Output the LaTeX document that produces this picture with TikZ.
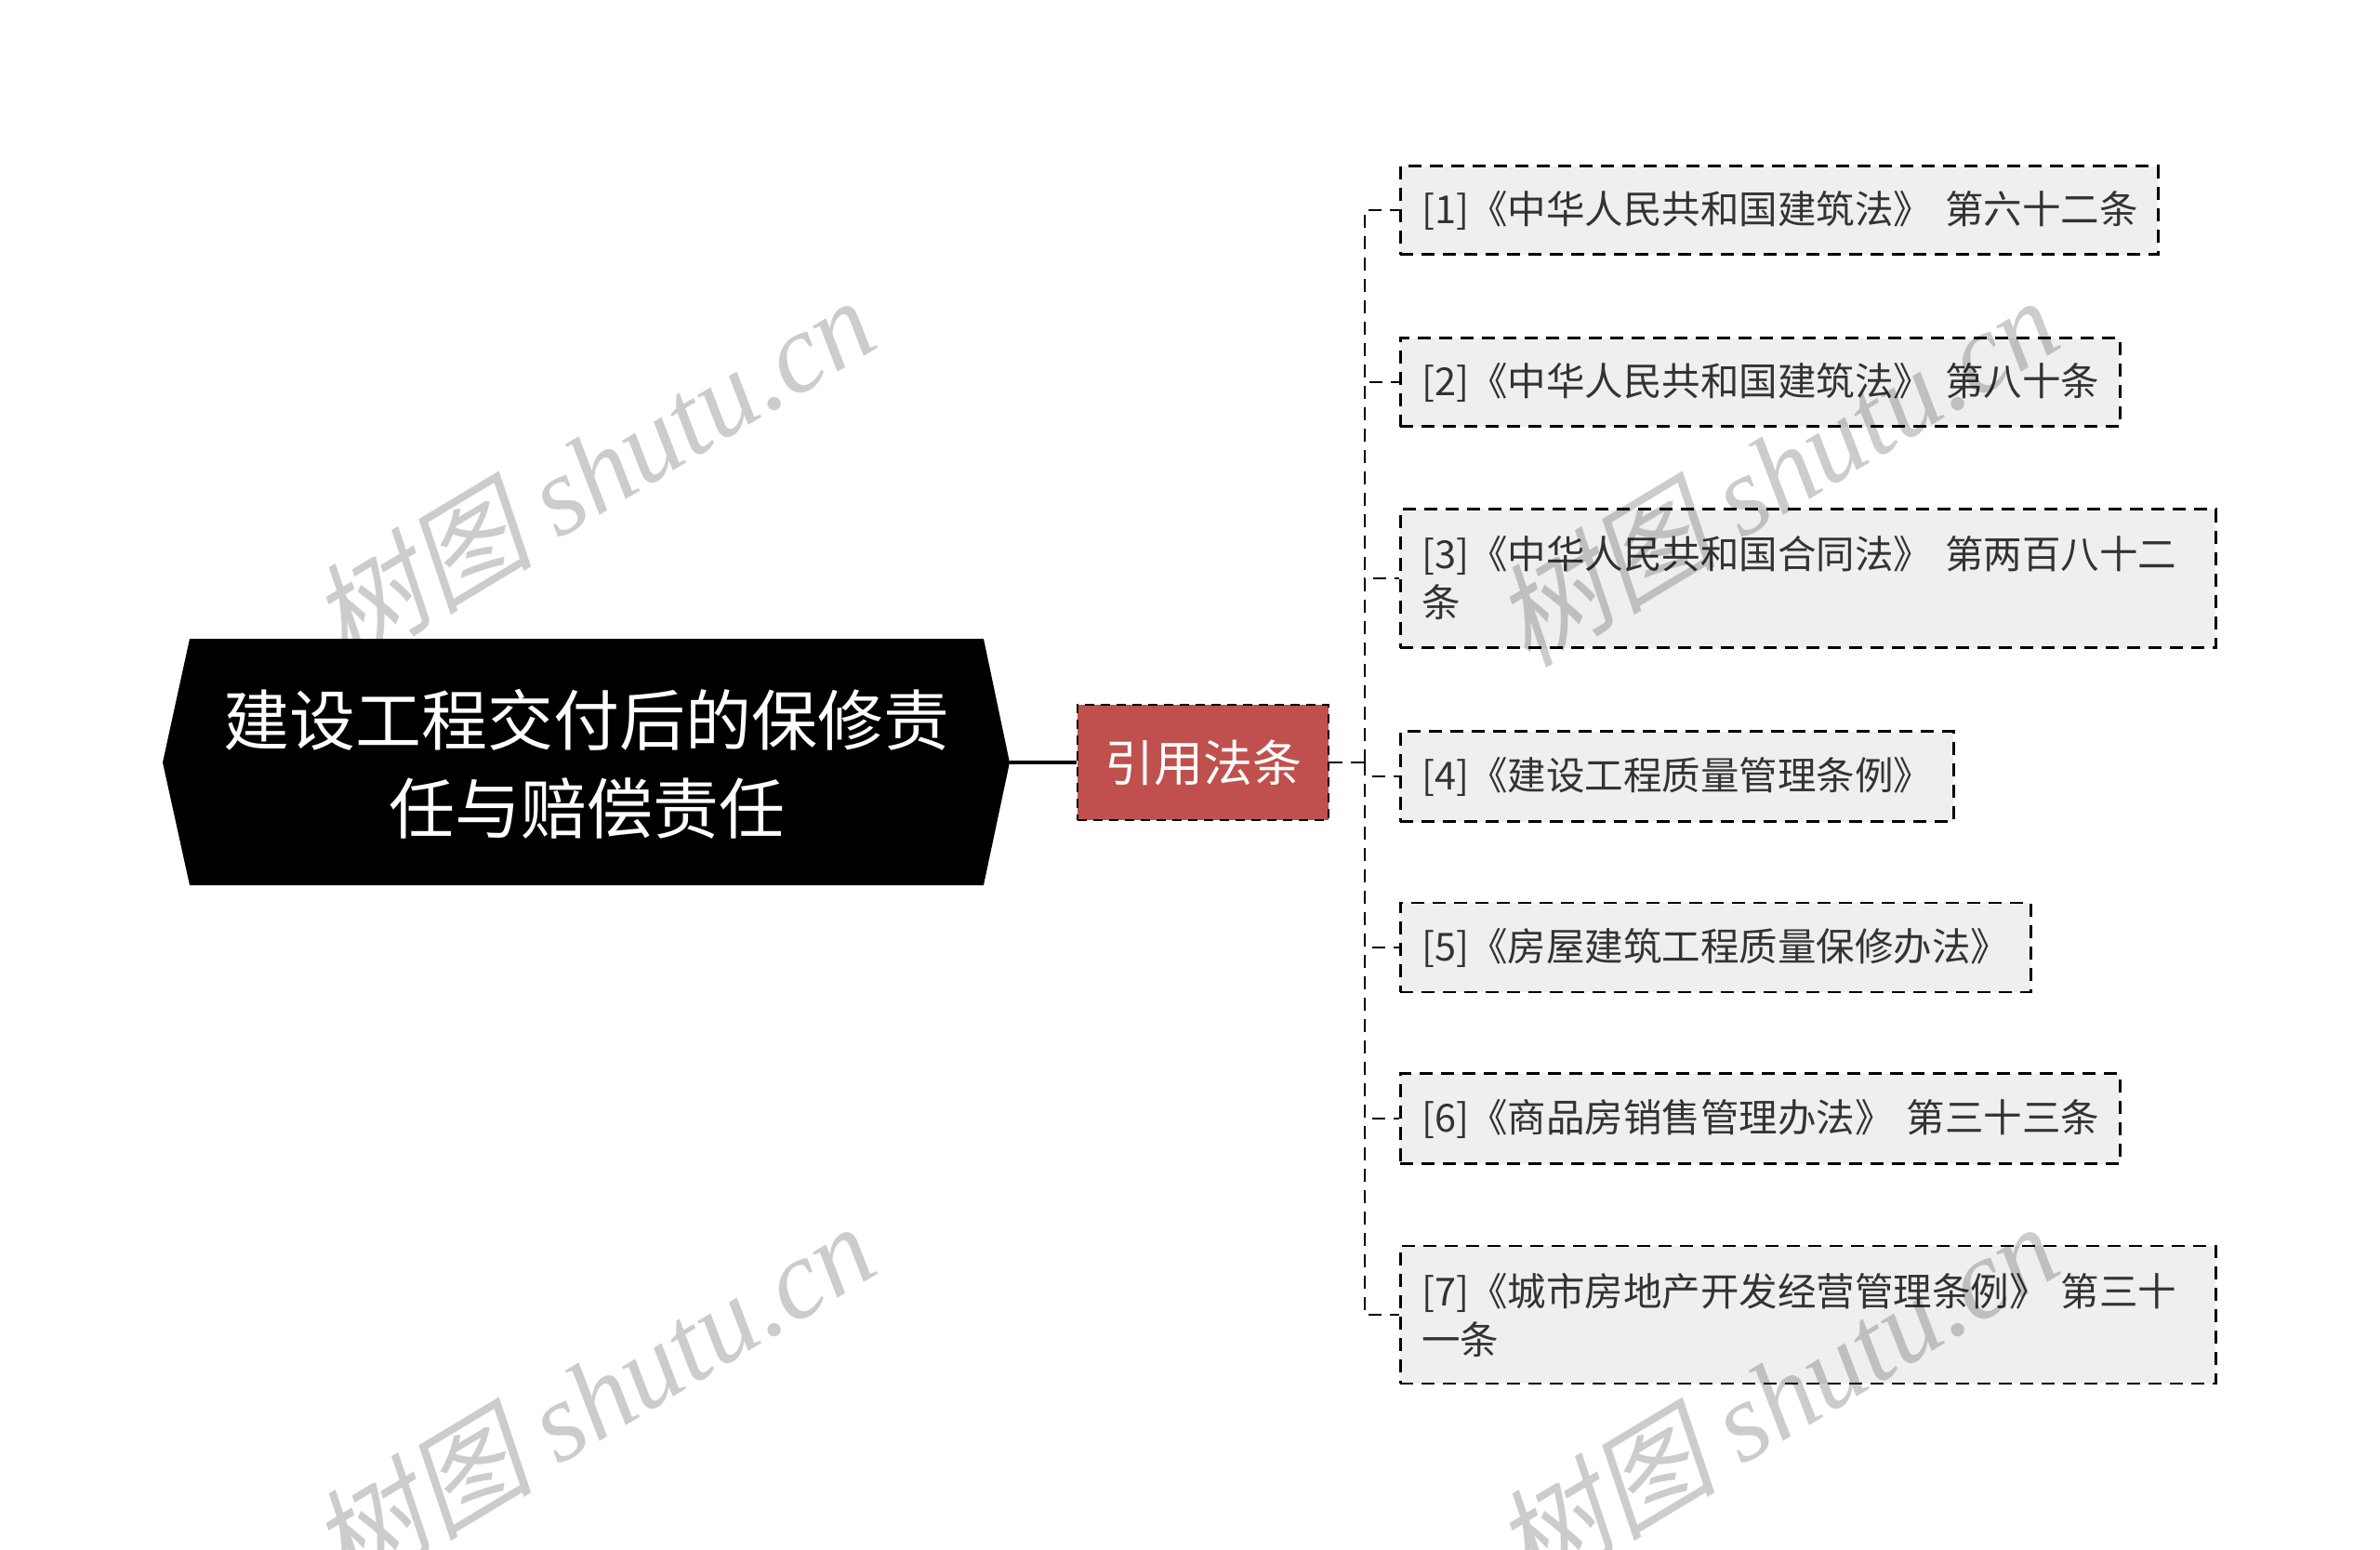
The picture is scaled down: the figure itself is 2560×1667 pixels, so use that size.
\documentclass[tikz,border=0pt]{standalone}
\usepackage{fontspec}
\setmainfont{Noto Sans CJK SC}
\newfontfamily\wmserif{Liberation Serif}
\newfontfamily\wmcjk[FakeSlant=0.22]{Noto Sans CJK SC}
\definecolor{refred}{HTML}{C0504D}
\definecolor{leafgray}{HTML}{EFEFEF}
\definecolor{leaftext}{HTML}{333333}
\begin{document}
\begin{tikzpicture}[x=1pt,y=-1pt,
  leaf/.style={draw=black, line width=2.6pt, dash pattern=on 14pt off 9pt, fill=leafgray,
    anchor=west, inner xsep=23pt, inner ysep=0pt, align=left,
    font=\fontsize{41.5}{52}\selectfont, text=leaftext},
  link/.style={draw=black, line width=2.4pt, dash pattern=on 14pt off 9pt},
  wmark/.style={text=black, text opacity=0.2, rotate=31, inner sep=0pt, font=\fontsize{121}{121}\selectfont}]
\useasboundingbox (0,0) rectangle (2560,1667);
\fill[white] (0,0) rectangle (2560,1667);

% root
\fill[black] (175,820) -- (204,687) -- (1058,687) -- (1086,820) -- (1058,952) -- (204,952) -- cycle;
\node[text=white, align=center, font=\fontsize{71}{95}\selectfont] (root) at (631,822)
  {建设工程交付后的保修责\\任与赔偿责任};
\coordinate (roottip) at (1086,820);

% reference node
\node[draw=black, line width=2.6pt, dash pattern=on 10pt off 7pt, fill=refred,
  minimum width=270pt, minimum height=124pt, inner sep=0pt, text=white,
  font=\fontsize{53}{60}\selectfont] (ref) at (1294,820) {引用法条};
\draw[line width=4.5pt] (roottip) -- (ref.west);

% leaves
\node[leaf, minimum width=815pt, minimum height=95pt, text width=769pt] (c1) at (1505,226)
  {\mbox{[1]《中华人民共和国建筑法》 第六十二条}};
\node[leaf, minimum width=774pt, minimum height=95pt, text width=728pt] (c2) at (1505,411)
  {\mbox{[2]《中华人民共和国建筑法》 第八十条}};
\node[leaf, minimum width=877pt, minimum height=149pt, text width=831pt] (c3) at (1505,622)
  {\mbox{[3]《中华人民共和国合同法》 第两百八十二}\\条};
\node[leaf, minimum width=595pt, minimum height=97pt, text width=549pt] (c4) at (1505,835)
  {\mbox{[4]《建设工程质量管理条例》}};
\node[leaf, minimum width=678pt, minimum height=96pt, text width=632pt] (c5) at (1505,1019)
  {\mbox{[5]《房屋建筑工程质量保修办法》}};
\node[leaf, minimum width=774pt, minimum height=97pt, text width=728pt] (c6) at (1505,1203)
  {\mbox{[6]《商品房销售管理办法》 第三十三条}};
\node[leaf, minimum width=877pt, minimum height=148pt, text width=831pt] (c7) at (1505,1414)
  {\mbox{[7]《城市房地产开发经营管理条例》 第三十}\\一条};

% connectors
\coordinate (junc) at (1468,820);
\draw[link] (ref.east) -- (junc);
\foreach \c in {c1,c2,c3,c4,c5,c6,c7}
  \draw[link] (junc) |- (\c.west);

% watermarks (on top)
\node[wmark] (wm1) at (636,506) {{\wmcjk 树图} {\wmserif\itshape shutu.cn}};
\node[wmark] (wm2) at (636,1502) {{\wmcjk 树图} {\wmserif\itshape shutu.cn}};
\node[wmark] (wm3) at (1909,506) {{\wmcjk 树图} {\wmserif\itshape shutu.cn}};
\node[wmark] (wm4) at (1909,1502) {{\wmcjk 树图} {\wmserif\itshape shutu.cn}};
\end{tikzpicture}
\end{document}
